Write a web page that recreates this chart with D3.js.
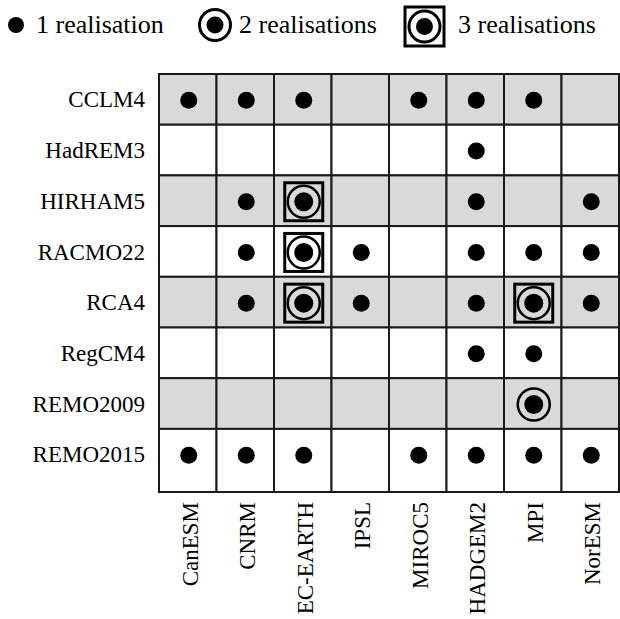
<!DOCTYPE html>
<html>
<head>
<meta charset="utf-8">
<script src="https://cdn.jsdelivr.net/npm/d3@7"></script>
<style>
    body { margin: 0; background: #fff; }
    svg { display: block; }
    text { font-family: "Liberation Serif", "Times New Roman", serif; fill: #000; }
</style>
</head>
<body>
<svg width="620" height="619"></svg>
<script>
// regional models (rows) and driving global models (columns)
const rcms = ["CCLM4", "HadREM3", "HIRHAM5", "RACMO22", "RCA4", "RegCM4", "REMO2009", "REMO2015"];
const gcms = ["CanESM", "CNRM", "EC-EARTH", "IPSL", "MIROC5", "HADGEM2", "MPI", "NorESM"];

// number of realisations for each rcm x gcm pair
const realisations = [
    [1, 1, 1, 0, 1, 1, 1, 0],
    [0, 0, 0, 0, 0, 1, 0, 0],
    [0, 1, 3, 0, 0, 1, 0, 1],
    [0, 1, 3, 1, 0, 1, 1, 1],
    [0, 1, 3, 1, 0, 1, 3, 1],
    [0, 0, 0, 0, 0, 1, 1, 0],
    [0, 0, 0, 0, 0, 0, 2, 0],
    [1, 1, 1, 0, 1, 1, 1, 1]
];

const legendLabels = ["1 realisation", "2 realisations", "3 realisations"];

const svg = d3.select("svg");
const gridBottom = 492;

const x = d3.scaleBand().domain(gcms).range([159, 619]);
const y = d3.scaleBand().domain(rcms).range([74, 479.6]);

// draw one marker (dot, ring+dot, square+ring+dot) centred at cx, cy
function drawMarker(g, n, cx, cy, s) {
    if (n >= 3) {
        g.append("rect")
            .attr("x", cx - s.sq / 2).attr("y", cy - s.sq / 2)
            .attr("width", s.sq).attr("height", s.sq)
            .attr("fill", "none").attr("stroke", "#000").attr("stroke-width", 3);
    }
    if (n >= 2) {
        g.append("circle")
            .attr("cx", cx).attr("cy", cy).attr("r", s.ring)
            .attr("fill", "none").attr("stroke", "#000").attr("stroke-width", s.ringW);
    }
    g.append("circle")
        .attr("cx", cx).attr("cy", cy)
        .attr("r", n >= 2 ? s.inner : s.dot)
        .attr("fill", "#000");
}

// background cells
const cells = [];
realisations.forEach((row, i) => {
    row.forEach((n, j) => cells.push({ rcm: rcms[i], gcm: gcms[j], row: i, n: n }));
});

svg.append("g")
    .selectAll("rect")
    .data(cells)
    .join("rect")
    .attr("x", d => x(d.gcm))
    .attr("y", d => y(d.rcm))
    .attr("width", x.bandwidth())
    .attr("height", d => d.row === rcms.length - 1 ? gridBottom - y(d.rcm) : y.bandwidth())
    .attr("fill", d => d.row % 2 === 0 ? "#d9d9d9" : "#fff")
    .attr("stroke", "#1a1a1a")
    .attr("stroke-width", 2);

// markers
const markers = svg.append("g");
const cellSize = { dot: 8.5, inner: 9.5, ring: 16, ringW: 2.5, sq: 38 };
cells.filter(d => d.n > 0).forEach(d => {
    drawMarker(markers, d.n, x(d.gcm) + x.bandwidth() / 2 + 1, y(d.rcm) + y.bandwidth() / 2 + 1, cellSize);
});

// row labels
svg.append("g")
    .selectAll("text")
    .data(rcms)
    .join("text")
    .attr("x", 145)
    .attr("y", d => y(d) + y.bandwidth() / 2)
    .attr("dy", "0.35em")
    .attr("text-anchor", "end")
    .style("font-size", "23px")
    .text(d => d);

// column labels, rotated
svg.append("g")
    .selectAll("text")
    .data(gcms)
    .join("text")
    .attr("transform", d => `translate(${x(d) + x.bandwidth() / 2 + 2},502) rotate(-90)`)
    .attr("dy", "0.35em")
    .attr("text-anchor", "end")
    .style("font-size", "23px")
    .text(d => d);

// legend
const legend = svg.append("g");
const legendSize = { dot: 8, inner: 8.5, ring: 15.5, ringW: 3, sq: 39 };
const legendIcons = [[16, 25], [215, 25], [424.5, 26.5]];
const legendText = [36, 239, 458];
legendLabels.forEach((label, i) => {
    drawMarker(legend, i + 1, legendIcons[i][0], legendIcons[i][1], legendSize);
    legend.append("text")
        .attr("x", legendText[i])
        .attr("y", 33)
        .style("font-size", "26px")
        .text(label);
});
</script>
</body>
</html>
